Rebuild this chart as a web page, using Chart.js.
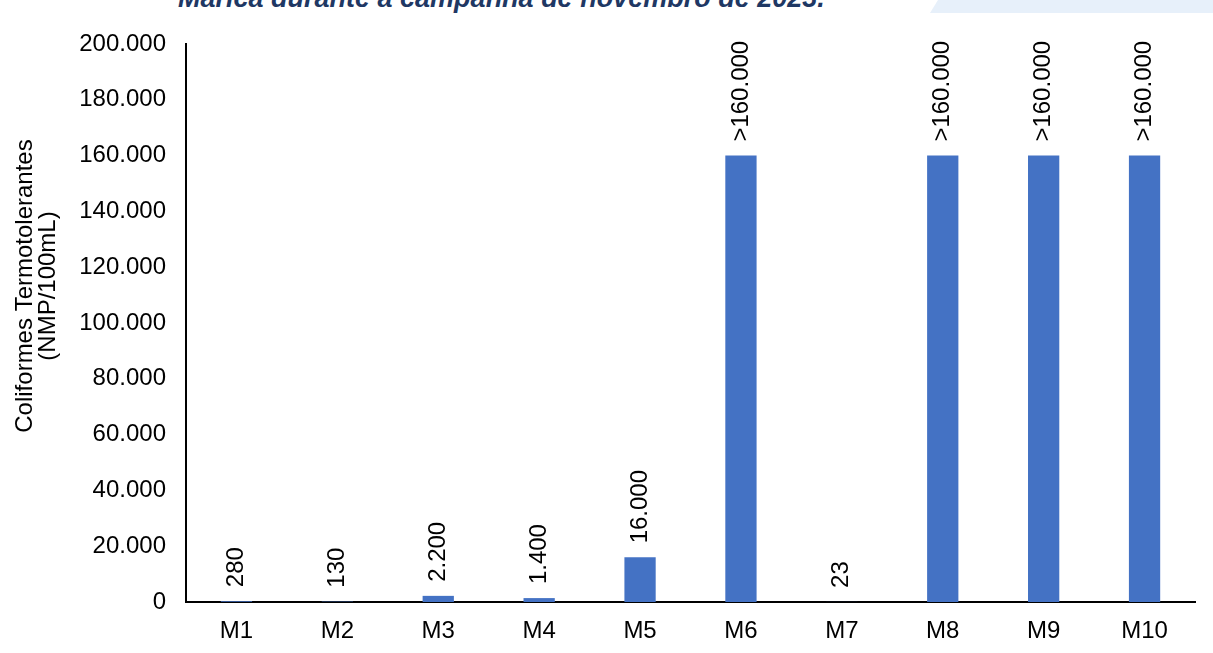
<!DOCTYPE html>
<html>
<head>
    <title>Coliformes Termotolerantes</title>
    <script src="https://cdn.jsdelivr.net/npm/chart.js"></script>
    <style>
        body { margin: 0; background: #fff; }
        #wrap { position: relative; width: 1213px; height: 653px; overflow: hidden; }
        #topTitle {
            position: absolute; left: 178px; top: -17px;
            font: italic bold 27px "Liberation Sans", Arial, sans-serif;
            color: #1f3864; white-space: nowrap;
        }
        #band {
            position: absolute; left: 930px; top: 0; width: 283px; height: 13px;
            background: #e7f0fa;
            clip-path: polygon(8px 0, 100% 0, 100% 100%, 0 100%);
        }
        canvas { position: absolute; left: 0; top: 0; }
    </style>
</head>
<body>
<div id="wrap">
    <div id="band"></div>
    <div id="topTitle">Marica durante a campanha de novembro de 2023.</div>
    <canvas id="myChart" width="1213" height="653"></canvas>
</div>
<script>
    // Pontos de amostragem e resultados (NMP/100mL)
    const pontos = ['M1', 'M2', 'M3', 'M4', 'M5', 'M6', 'M7', 'M8', 'M9', 'M10'];
    const valores = [280, 130, 2200, 1400, 16000, 160000, 23, 160000, 160000, 160000];
    const rotulos = ['280', '130', '2.200', '1.400', '16.000', '>160.000', '23', '>160.000', '>160.000', '>160.000'];
    const tituloEixo = ['Coliformes Termotolerantes', '(NMP/100mL)'];

    const fonte = '"Liberation Sans", Arial, sans-serif';
    const tam = 24;

    function formatar(v) {
        return String(v).replace(/\B(?=(\d{3})+(?!\d))/g, '.');
    }

    // rótulos verticais acima das barras
    const rotulosBarras = {
        id: 'rotulosBarras',
        afterDatasetsDraw(chart) {
            const ctx = chart.ctx;
            const meta = chart.getDatasetMeta(0);
            ctx.save();
            ctx.font = tam + 'px ' + fonte;
            ctx.fillStyle = '#000';
            ctx.textAlign = 'left';
            ctx.textBaseline = 'middle';
            meta.data.forEach((bar, i) => {
                ctx.save();
                ctx.translate(bar.x, bar.y - 14);
                ctx.rotate(-Math.PI / 2);
                ctx.fillText(rotulos[i], 0, 0);
                ctx.restore();
            });
            ctx.restore();
        }
    };

    // título do eixo Y em duas linhas
    const tituloY = {
        id: 'tituloY',
        afterDraw(chart) {
            const ctx = chart.ctx;
            ctx.save();
            ctx.font = tam + 'px ' + fonte;
            ctx.fillStyle = '#000';
            ctx.textAlign = 'center';
            ctx.textBaseline = 'middle';
            ctx.translate(0, 286);
            ctx.rotate(-Math.PI / 2);
            ctx.fillText(tituloEixo[0], 0, 25);
            ctx.fillText(tituloEixo[1], 0, 48);
            ctx.restore();
        }
    };

    const config = {
        type: 'bar',
        data: {
            labels: pontos,
            datasets: [{
                data: valores,
                backgroundColor: '#4472c4',
                categoryPercentage: 1,
                barPercentage: 0.31
            }]
        },
        options: {
            responsive: false,
            animation: false,
            layout: { padding: { top: 44, right: 18, bottom: 0, left: 0 } },
            plugins: {
                legend: { display: false },
                tooltip: { enabled: false }
            },
            scales: {
                x: {
                    grid: { display: false, drawTicks: false },
                    border: { display: true, color: '#000', width: 2 },
                    ticks: { color: '#000', padding: 15, font: { family: fonte, size: tam } },
                    afterFit(scale) { scale.height = 51; }
                },
                y: {
                    min: 0,
                    max: 200000,
                    grid: { display: false, drawTicks: false },
                    border: { display: true, color: '#000', width: 2 },
                    ticks: {
                        stepSize: 20000,
                        color: '#000',
                        padding: 20,
                        font: { family: fonte, size: tam },
                        callback: v => formatar(v)
                    },
                    afterFit(scale) { scale.width = 186; }
                }
            }
        },
        plugins: [rotulosBarras, tituloY]
    };

    const myChart = new Chart(document.getElementById('myChart'), config);
</script>
</body>
</html>
